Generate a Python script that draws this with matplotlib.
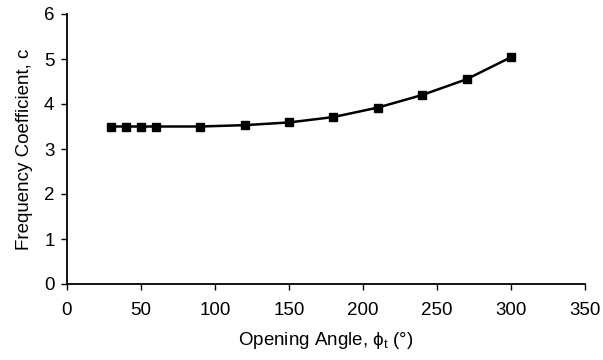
import numpy as np
import matplotlib
matplotlib.use('Agg')
import matplotlib.pyplot as plt

plt.rcParams['font.family'] = ['Liberation Sans', 'DejaVu Sans']
plt.rcParams['mathtext.fontset'] = 'custom'
plt.rcParams['mathtext.rm'] = 'Liberation Sans'
plt.rcParams['mathtext.it'] = 'Liberation Sans:italic'

angle = [30, 40, 50, 60, 90, 120, 150, 180, 210, 240, 270, 300]
coeff = [3.50, 3.50, 3.50, 3.50, 3.50, 3.53, 3.59, 3.71, 3.92, 4.20, 4.55, 5.04]

fig = plt.figure(figsize=(6.03, 3.60), dpi=100)
ax = fig.add_axes([67/603, 1-284/360, 518/603, 270/360])

ax.plot(angle, coeff, color='k', lw=1.8, marker='s', markersize=6, mec='k', mfc='k')

ax.set_xlim(0, 350)
ax.set_ylim(0, 6)
ax.set_xticks(np.arange(0, 351, 50))
ax.set_yticks(np.arange(0, 7, 1))
ax.tick_params(direction='out', length=4, width=1, labelsize=13.5, colors='k')
ax.tick_params(axis='x', pad=9)
ax.tick_params(axis='y', pad=5)
for s in ['top', 'right']:
    ax.spines[s].set_visible(False)
for s in ['left', 'bottom']:
    ax.spines[s].set_linewidth(1.3)

ax.set_xlabel('Opening Angle, ϕ$_\\mathrm{t}$ (°)', fontsize=13.5, labelpad=8)
ax.set_ylabel('Frequency Coefficient, c', fontsize=13.5, labelpad=8)

fig.savefig('out.png', dpi=100)
